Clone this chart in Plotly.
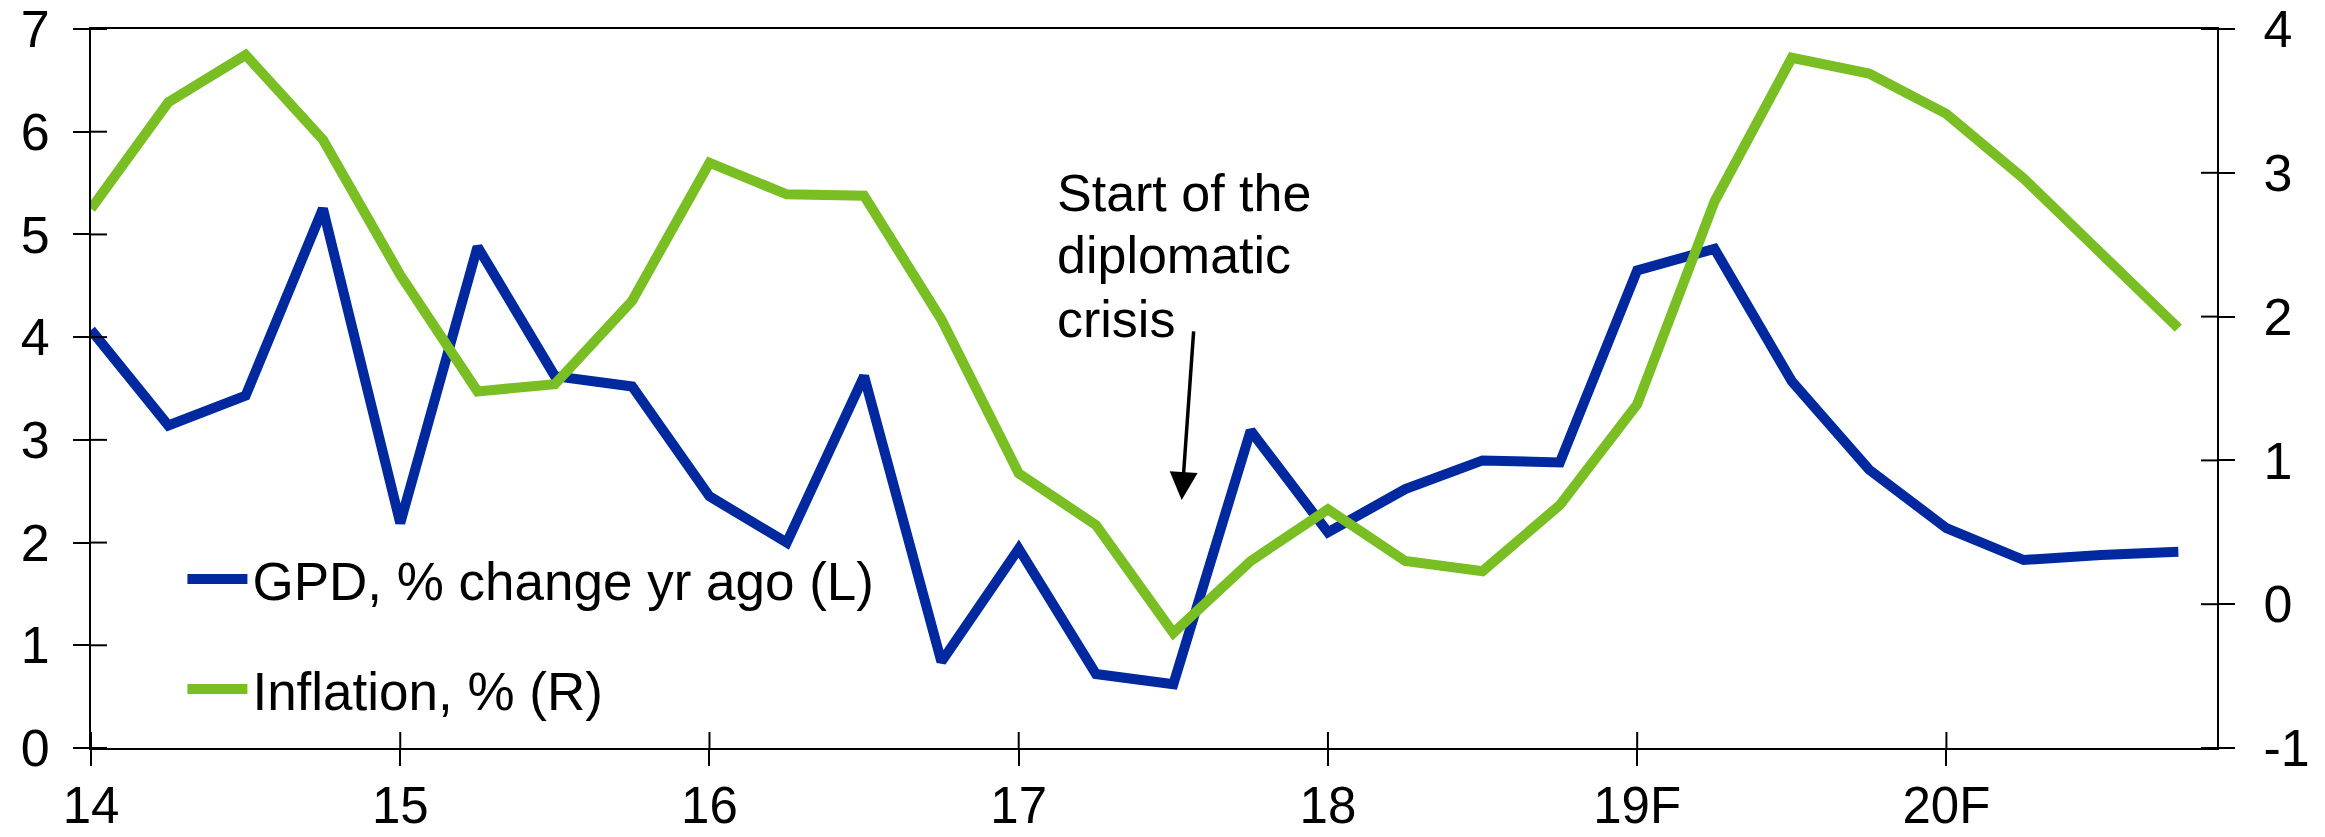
import plotly.graph_objects as go

# quarterly periods, 14Q1 .. 20Q4 (x in years)
years = [14 + q / 4 for q in range(28)]
gdp = [4.07, 3.14, 3.43, 5.25, 2.19, 4.88, 3.62, 3.52, 2.45, 2.00, 3.62, 0.84, 1.94, 0.72,
       0.62, 3.09, 2.10, 2.52, 2.80, 2.78, 4.65, 4.86, 3.57, 2.71, 2.14, 1.83, 1.88, 1.91]
inflation = [2.75, 3.49, 3.82, 3.23, 2.29, 1.48, 1.53, 2.11, 3.07, 2.85, 2.84, 1.98, 0.91, 0.55,
             -0.20, 0.30, 0.66, 0.30, 0.23, 0.69, 1.39, 2.80, 3.80, 3.69, 3.41, 2.96, 2.44, 1.92]

x_tickvals = [14, 15, 16, 17, 18, 19, 20]
x_ticktext = ["14", "15", "16", "17", "18", "19F", "20F"]
y_left_ticks = [0, 1, 2, 3, 4, 5, 6, 7]
y_right_ticks = [-1, 0, 1, 2, 3, 4]
y_right_text = ["-1", "0", "1", "2", "3", "4"]
x_range = [14, 20.875]
y_left_range = [0, 7]
y_right_range = [-1, 4]

annot_lines = ["Start of the", "diplomatic", "crisis"]
arrow_tip = (17.527, 2.414)
arrow_tail = (17.566, 4.07)

BLUE = "#0029A0"
GREEN = "#79BE22"
FONT = "Liberation Sans, Arial, sans-serif"

fig = go.Figure()
fig.add_trace(go.Scatter(x=years, y=gdp, mode="lines", name="GPD, % change yr ago (L)",
                         line=dict(color=BLUE, width=10), legendgroup="a"))
fig.add_trace(go.Scatter(x=years, y=inflation, mode="lines", name="Inflation, % (R)",
                         line=dict(color=GREEN, width=10), yaxis="y2", legendgroup="b"))

TL = 16
fig.update_layout(
    width=2325, height=837,
    margin=dict(l=91, r=108, t=29, b=89),
    paper_bgcolor="white", plot_bgcolor="white",
    font=dict(family=FONT, size=52, color="black"),
    showlegend=True,
    legend=dict(x=0.043, y=0.292, xanchor="left", yanchor="top",
                bgcolor="rgba(0,0,0,0)", font=dict(size=53),
                tracegroupgap=38, itemwidth=60),
    xaxis=dict(range=x_range, tickvals=x_tickvals, ticktext=x_ticktext,
               tickfont=dict(size=51),
               showgrid=False, zeroline=False, showline=True, linecolor="black",
               linewidth=2, mirror=True, ticks="outside", ticklen=TL, tickwidth=2,
               tickcolor="black", ticklabelstandoff=-4, automargin=False),
    yaxis=dict(range=y_left_range, tickvals=y_left_ticks, showgrid=False, zeroline=False,
               showline=True, linecolor="black", linewidth=2, ticks="outside",
               ticklen=TL, tickwidth=2, tickcolor="black", ticklabelstandoff=13,
               automargin=False),
    yaxis2=dict(range=y_right_range, tickvals=y_right_ticks, ticktext=y_right_text,
                overlaying="y", side="right",
                showgrid=False, zeroline=False, showline=True, linecolor="black",
                linewidth=2, ticks="outside", ticklen=TL, tickwidth=2, tickcolor="black",
                ticklabelstandoff=18, automargin=False),
)

shapes = []
for v in y_left_ticks:
    shapes.append(dict(type="line", xref="x", yref="y", xsizemode="pixel",
                       xanchor=x_range[0], x0=0, x1=TL, y0=v, y1=v,
                       line=dict(color="black", width=2)))
for v in y_right_ticks:
    shapes.append(dict(type="line", xref="x", yref="y2", xsizemode="pixel",
                       xanchor=x_range[1], x0=-TL, x1=0, y0=v, y1=v,
                       line=dict(color="black", width=2)))
for v in x_tickvals:
    shapes.append(dict(type="line", xref="x", yref="y", ysizemode="pixel",
                       yanchor=y_left_range[0], y0=0, y1=TL, x0=v, x1=v,
                       line=dict(color="black", width=2)))
fig.update_layout(shapes=shapes)

# annotation text lines
annot_y = [0.772, 0.685, 0.596]
for t, yy in zip(annot_lines, annot_y):
    fig.add_annotation(x=0.4535, y=yy, xref="paper", yref="paper",
                       text=t, showarrow=False, xanchor="left", yanchor="middle",
                       font=dict(size=52, family=FONT, color="black"))
fig.add_annotation(x=arrow_tip[0], y=arrow_tip[1], ax=arrow_tail[0], ay=arrow_tail[1],
                   xref="x", yref="y", axref="x", ayref="y", text="",
                   showarrow=True, arrowhead=2, arrowsize=1.6, arrowwidth=3.5,
                   arrowcolor="black", standoff=0)

fig.write_html("out.html")
